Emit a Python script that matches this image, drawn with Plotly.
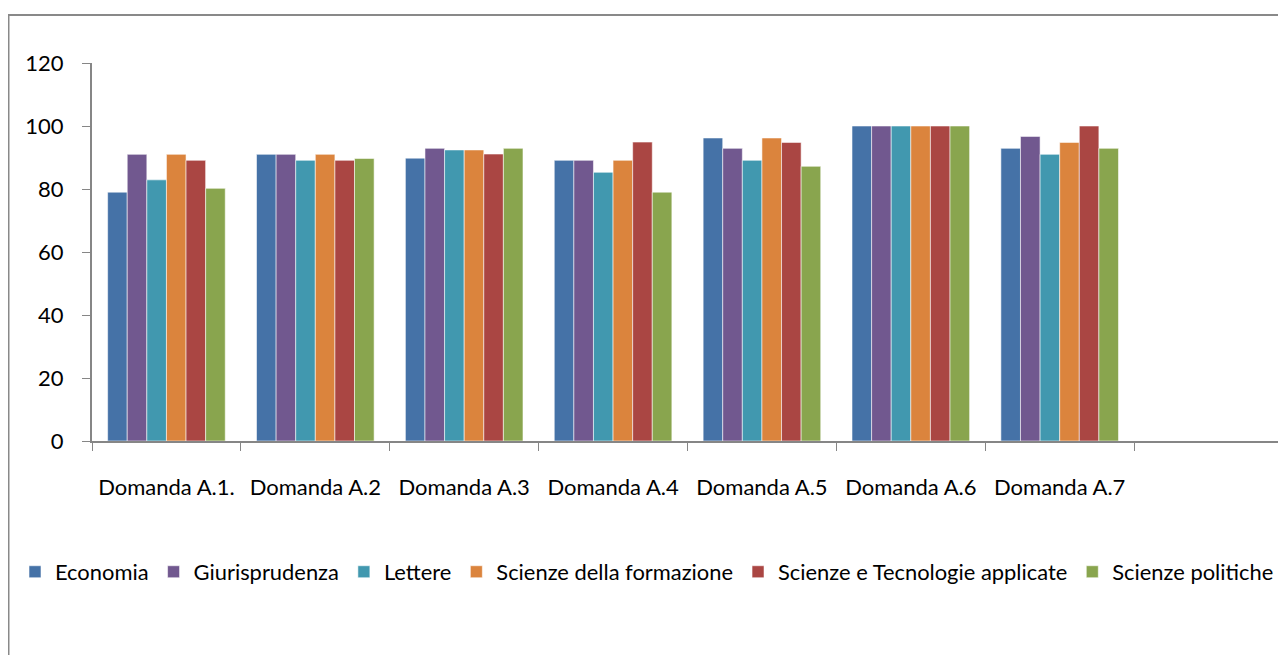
import plotly.graph_objects as go

categories = ["Domanda A.1.", "Domanda A.2", "Domanda A.3", "Domanda A.4",
              "Domanda A.5", "Domanda A.6", "Domanda A.7", " "]

series_names = ["Economia", "Giurisprudenza", "Lettere", "Scienze della formazione",
                "Scienze e Tecnologie applicate", "Scienze politiche"]

economia = [79, 91, 89.8, 89.1, 96.2, 100, 92.9]
giurisprudenza = [91, 91, 92.9, 89.1, 92.9, 100, 96.7]
lettere = [82.9, 89.1, 92.4, 85.3, 89.1, 100, 91]
scienze_formazione = [91, 91, 92.4, 89.1, 96.2, 100, 94.8]
scienze_tecnologie = [89.1, 89.1, 91.1, 94.9, 94.8, 100, 100]
scienze_politiche = [80.2, 89.7, 92.9, 79, 87.2, 100, 92.9]

series_values = [economia, giurisprudenza, lettere, scienze_formazione,
                 scienze_tecnologie, scienze_politiche]
colors = ["#4572A7", "#71588F", "#4198AF", "#DB843D", "#AA4643", "#89A54E"]

y_ticks = [0, 20, 40, 60, 80, 100, 120]

FONT = "Lato"
AXIS_COLOR = "#868686"

fig = go.Figure()
for name, vals, col in zip(series_names, series_values, colors):
    fig.add_trace(go.Bar(
        name=name, x=categories[:len(vals)], y=vals,
        marker=dict(color=col, line=dict(color="rgba(255,255,255,0.55)", width=1)),
    ))

# page is offset by the 8px body margin
OFF = 8
W, H = 1286, 655
ml, mt = 92 - OFF, 63 - OFF
pw = 1283 - 92
ph = 441 - 63
mr = W - ml - pw
mb = H - mt - ph

def px_x(page_x):
    return (page_x - OFF - ml) / pw

def px_y(page_y):
    return (mt + ph - (page_y - OFF)) / ph

fig.update_layout(
    width=W, height=H,
    margin=dict(l=ml, r=mr, t=mt, b=mb, autoexpand=False),
    paper_bgcolor="white", plot_bgcolor="white",
    barmode="group", bargap=0.21, bargroupgap=0,
    font=dict(family=FONT, size=22, color="black"),
    xaxis=dict(
        type="category", categoryorder="array", categoryarray=categories,
        range=[-0.5, len(categories) - 0.5],
        tickson="boundaries", ticks="outside", ticklen=8, tickwidth=1,
        tickcolor=AXIS_COLOR, showline=True, linecolor=AXIS_COLOR, linewidth=2,
        showgrid=False, zeroline=False, tickangle=0, ticklabelstandoff=26,
        tickfont=dict(family=FONT, size=22, color="black"),
        automargin=False,
    ),
    xaxis2=dict(
        type="category", categoryorder="array", categoryarray=categories,
        range=[-0.5, len(categories) - 0.5], overlaying="x", anchor="y", side="bottom",
        tickson="boundaries", ticks="inside", ticklen=8, tickwidth=1,
        tickcolor=AXIS_COLOR, showticklabels=False, showline=False,
        showgrid=False, zeroline=False,
    ),
    yaxis=dict(
        range=[0, 120], tickvals=y_ticks, ticks="outside", ticklen=8, tickwidth=1,
        tickcolor=AXIS_COLOR, showline=True, linecolor=AXIS_COLOR, linewidth=2,
        showgrid=False, zeroline=False, ticklabelstandoff=14,
        tickfont=dict(family=FONT, size=22, color="black"),
        automargin=False,
    ),
    yaxis2=dict(
        range=[0, 120], tickvals=y_ticks, overlaying="y", anchor="x", side="left",
        ticks="inside", ticklen=8, tickwidth=1, tickcolor=AXIS_COLOR,
        showticklabels=False, showline=False, showgrid=False, zeroline=False,
    ),
    legend=dict(
        orientation="h", x=px_x(15), xanchor="left",
        y=px_y(572), yanchor="middle",
        font=dict(family=FONT, size=21.9, color="black"),
        bgcolor="rgba(0,0,0,0)", traceorder="normal",
    ),
    shapes=[dict(
        type="rect", xref="paper", yref="paper",
        x0=px_x(OFF + 0.5), x1=px_x(W + 40),
        y0=px_y(H + 40), y1=px_y(15),
        line=dict(color="#898989", width=2), fillcolor="rgba(0,0,0,0)", layer="below",
    )],
)

fig.write_html("out.html")
